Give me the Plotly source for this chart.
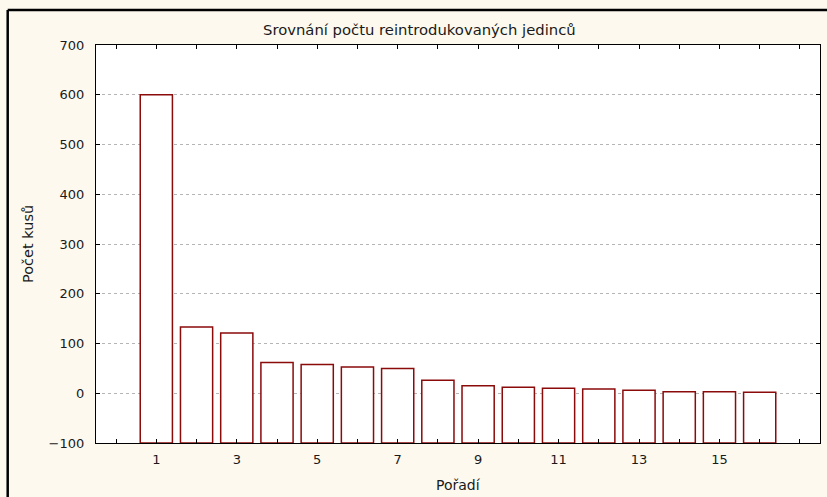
import plotly.graph_objects as go

ranks = list(range(1, 17))
counts = [600, 133, 121, 62, 58, 53, 50, 26, 15, 12, 10, 8.5, 6, 3, 3, 2]
baseline = -100
x_tick_vals = [1, 3, 5, 7, 9, 11, 13, 15]
x_tick_text = ["1", "3", "5", "7", "9", "11", "13", "15"]
y_tick_vals = [-100, 0, 100, 200, 300, 400, 500, 600, 700]

title_text = "Srovnání počtu reintrodukovaných jedinců"
x_title = "Pořadí"
y_title = "Počet kusů"

FONT = "DejaVu Sans, Liberation Sans, Arial, sans-serif"
TXT = "#1a1a1a"
W, H = 827, 497
L, R, T, B = 96, 7, 45, 54
pw, ph = W - L - R, H - T - B

fig = go.Figure()
fig.add_trace(go.Bar(
    x=ranks,
    y=[c - baseline for c in counts],
    base=baseline,
    width=0.8,
    marker=dict(color="white", line=dict(color="#8B0A0A", width=1.5)),
    showlegend=False,
))

fig.update_layout(
    width=W, height=H, autosize=False,
    margin=dict(l=L, r=R, t=T, b=B, pad=0),
    paper_bgcolor="#FDF9EF",
    plot_bgcolor="white",
    font=dict(family=FONT, size=13, color=TXT),
    bargap=0.2,
)

fig.update_xaxes(
    range=[-0.5, 17.5],
    tickmode="array", tickvals=x_tick_vals, ticktext=x_tick_text,
    ticks="inside", ticklen=4, tickcolor="black",
    minor=dict(dtick=1, tick0=0, ticks="inside", ticklen=4, tickcolor="black", showgrid=False),
    showline=True, linecolor="black", linewidth=1.2, mirror="allticks",
    showgrid=False, zeroline=False,
    ticklabelstandoff=4,
    tickfont=dict(family=FONT, size=13, color=TXT),
)
fig.update_yaxes(
    range=[-100, 700],
    tickmode="array", tickvals=y_tick_vals,
    ticks="inside", ticklen=4, tickcolor="black",
    showline=True, linecolor="black", linewidth=1.2, mirror="allticks",
    showgrid=True, gridcolor="#B5B5B5", griddash="dot", gridwidth=1,
    zeroline=False,
    ticklabelstandoff=8,
    tickfont=dict(family=FONT, size=13, color=TXT),
)

fig.add_annotation(text=title_text, xref="paper", yref="paper",
                   x=(419 - L) / pw, y=1 + (T - 29) / ph,
                   showarrow=False, xanchor="center", yanchor="middle",
                   font=dict(family=FONT, size=14.8, color=TXT))
fig.add_annotation(text=y_title, xref="paper", yref="paper",
                   x=(28 - L) / pw, y=(H - B - 244) / ph, textangle=-90,
                   showarrow=False, xanchor="center", yanchor="middle",
                   font=dict(family=FONT, size=14.5, color=TXT))
fig.add_annotation(text=x_title, xref="paper", yref="paper",
                   x=0.5, y=-(485 - (H - B)) / ph,
                   showarrow=False, xanchor="center", yanchor="middle",
                   font=dict(family=FONT, size=14, color=TXT))

# outer frame (top and left edges visible)
fx = (7.7 - L) / pw
fy = 1 + (T - 10) / ph
fig.add_shape(type="line", xref="paper", yref="paper",
              x0=fx, x1=fx, y0=fy, y1=-(B + 10) / ph,
              line=dict(color="black", width=2.5))
fig.add_shape(type="line", xref="paper", yref="paper",
              x0=fx, x1=1 + (R + 10) / pw, y0=fy, y1=fy,
              line=dict(color="black", width=2.5))

fig.write_html("out.html",
               config={"displayModeBar": False},
               post_script="document.body.style.margin='0';document.body.style.overflow='hidden';")
